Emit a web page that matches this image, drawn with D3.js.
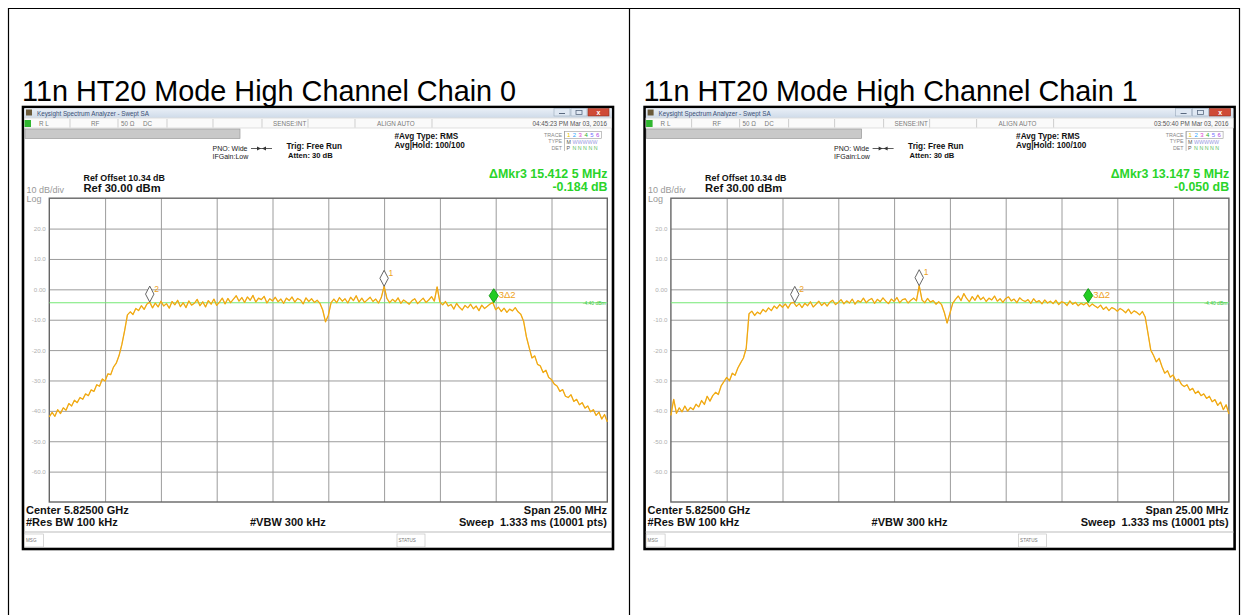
<!DOCTYPE html>
<html><head><meta charset="utf-8">
<script src="https://cdn.jsdelivr.net/npm/d3@7"></script>
<style>
body{margin:0;background:#fff}
svg{display:block}
text{font-family:"Liberation Sans",Arial,Helvetica,sans-serif}
</style>
</head><body>
<svg id="c" width="1247" height="615"></svg>
<script>
// ---------------- data ----------------
const panelTitles = ["11n HT20 Mode High Channel Chain 0", "11n HT20 Mode High Channel Chain 1"];
const timeStamps = ["04:45:23 PM Mar 03, 2016", "03:50:40 PM Mar 03, 2016"];
const deltaMarkerFreq = ["\u0394Mkr3 15.412 5 MHz", "\u0394Mkr3 13.147 5 MHz"];
const deltaMarkerLevel = ["-0.184 dB", "-0.050 dB"];
const displayLineLevel = [-4.4, -4.4];
const displayLineLabel = ["-4.40 dBm", "-4.40 dBm"];

// amplitude axis (dBm), 10 dB/div, ref 30 dBm
const yDomain = [-70, 30];
const yTicks = [20, 10, 0, -10, -20, -30, -40, -50, -60];
const yTickLabels = ["20.0", "10.0", "0.00", "-10.0", "-20.0", "-30.0", "-40.0", "-50.0", "-60.0"];
// frequency axis: offset from start (5.8125 GHz) in MHz, span 25 MHz
const xDomain = [0, 25];
const xGridMHz = [2.5, 5, 7.5, 10, 12.5, 15, 17.5, 20, 22.5];
const freqStepMHz = 0.125;

// trace values (dBm), one every 0.125 MHz
const traceChain0 = [
 -42.0,-40.5,-41.8,-39.6,-40.9,-39.0,-39.8,-37.6,
 -38.4,-36.5,-37.3,-35.6,-36.2,-34.4,-35.0,-33.1,
 -33.6,-31.4,-31.9,-29.5,-30.2,-27.8,-28.1,-25.6,
 -24.3,-21.8,-18.2,-13.6,-8.4,-7.4,-8.3,-6.3,
 -7.0,-5.4,-6.6,-4.8,-4.2,-6.1,-4.5,-5.8,
 -3.9,-5.5,-4.7,-6.2,-4.0,-5.1,-3.6,-5.7,
 -4.4,-6.0,-3.8,-5.2,-4.6,-3.3,-5.4,-4.1,
 -5.8,-3.7,-4.9,-3.2,-5.3,-4.2,-2.9,-4.8,
 -3.0,-4.4,-3.2,-2.1,-3.9,-2.7,-4.3,-2.5,
 -3.6,-2.0,-4.2,-2.9,-3.4,-2.3,-4.5,-3.1,
 -3.8,-2.6,-4.1,-3.2,-4.6,-2.9,-3.7,-2.5,
 -4.2,-3.0,-3.5,-4.8,-2.8,-4.0,-3.1,-4.3,
 -3.6,-4.6,-6.8,-10.7,-8.6,-4.4,-3.2,-4.4,
 -2.7,-3.9,-3.1,-4.5,-2.6,-3.7,-2.1,-4.2,
 -2.9,-4.3,-3.4,-2.6,-4.0,-3.2,-4.5,-2.7,
 1.0,-3.0,-4.4,-3.3,-4.1,-2.8,-4.6,-3.5,
 -4.2,-4.9,-3.7,-3.1,-4.7,-3.8,-2.9,-4.3,
 -3.5,-2.4,-3.9,0.8,-4.2,-5.1,-4.0,-5.5,
 -5.0,-6.5,-4.6,-5.9,-6.8,-5.3,-6.1,-4.9,
 -6.4,-5.5,-7.0,-5.2,-6.3,-5.6,-4.8,-4.4,
 -6.7,-5.9,-7.3,-6.2,-7.6,-6.5,-7.1,-6.0,
 -7.4,-8.2,-10.5,-15.6,-19.2,-22.6,-21.9,-24.7,
 -25.2,-27.4,-26.6,-29.0,-29.7,-31.2,-31.8,-33.6,
 -33.0,-35.2,-35.6,-34.7,-36.9,-36.2,-38.0,-37.3,
 -39.1,-38.4,-40.3,-39.6,-41.5,-40.4,-42.7,-41.2,
 -43.6
];
const traceChain1 = [
 -41.5,-36.2,-40.8,-39.0,-40.3,-38.4,-40.1,-38.9,
 -39.6,-37.8,-38.7,-36.6,-37.9,-35.2,-36.8,-35.0,
 -33.9,-34.6,-31.8,-30.4,-29.0,-30.1,-27.6,-28.3,
 -25.9,-24.2,-22.6,-19.4,-8.0,-7.2,-8.6,-7.5,
 -8.1,-6.6,-7.4,-6.1,-7.0,-5.5,-6.3,-5.0,
 -5.9,-4.8,-6.2,-4.5,-4.3,-5.6,-4.7,-6.0,
 -4.6,-5.4,-4.1,-5.8,-4.9,-3.9,-5.3,-4.4,
 -5.5,-4.2,-3.6,-5.0,-4.3,-3.4,-4.8,-3.8,
 -4.5,-3.2,-4.9,-3.7,-4.2,-2.9,-4.4,-3.5,
 -3.0,-4.6,-3.3,-4.1,-2.8,-3.9,-4.7,-3.2,
 -4.0,-2.7,-4.4,-3.4,-3.1,-4.5,-3.6,-2.9,
 -3.8,1.2,-3.5,-4.4,-3.0,-4.2,-3.7,-4.9,
 -4.1,-5.0,-7.6,-11.1,-7.9,-4.6,-3.3,-2.2,
 -3.7,-1.4,-3.0,-4.1,-2.4,-3.6,-1.9,-3.4,
 -2.6,-4.0,-2.9,-3.5,-2.2,-3.9,-3.1,-4.3,
 -3.0,-2.5,-3.8,-3.2,-4.4,-2.8,-3.6,-4.0,
 -3.4,-4.6,-3.1,-4.2,-3.7,-4.8,-3.5,-4.5,
 -3.9,-4.7,-3.6,-5.0,-4.1,-4.4,-5.3,-3.8,
 -4.9,-4.3,-5.4,-4.6,-5.1,-4.4,-5.7,-4.8,
 -5.5,-6.1,-5.2,-6.6,-5.8,-7.0,-6.0,-6.4,
 -7.2,-6.3,-6.9,-7.7,-6.5,-8.0,-7.1,-7.6,
 -8.4,-7.3,-9.1,-14.5,-20.0,-21.8,-23.9,-22.7,
 -25.4,-27.6,-26.8,-28.9,-28.2,-30.1,-29.6,-31.3,
 -32.0,-31.4,-33.2,-32.6,-34.3,-33.5,-35.0,-34.4,
 -35.9,-35.2,-37.0,-36.3,-38.2,-37.1,-39.6,-38.0,
 -41.0
];
const traces = [traceChain0, traceChain1];

// markers: names, frequency offsets (MHz), levels (dBm)
const markerNames = ["1", "2", "3\u03942"];
const markerFreqChain0 = [15.0, 4.5, 19.9125];
const markerLevelChain0 = [1.0, -4.2, -4.4];
const markerFreqChain1 = [11.125, 5.55, 18.6975];
const markerLevelChain1 = [1.2, -4.3, -4.35];
const markerFreqs = [markerFreqChain0, markerFreqChain1];
const markerLevels = [markerLevelChain0, markerLevelChain1];

// ---------------- drawing ----------------
const svg = d3.select("#c");
svg.append("rect").attr("width",1247).attr("height",615).attr("fill","#fff");

// outer table lines
const tbl = svg.append("g").attr("stroke","#000").attr("stroke-width",1.2);
tbl.append("line").attr("x1",8).attr("x2",1240).attr("y1",8.5).attr("y2",8.5);
[8.5, 629.5, 1239.5].forEach(x=>tbl.append("line").attr("x1",x).attr("x2",x).attr("y1",8).attr("y2",615));

const panelShift = [0, 621.6];

function drawPanel(p){
  const g = svg.append("g").attr("transform",`translate(${panelShift[p]},0)`);
  // title
  g.append("text").attr("x",22).attr("y",100.5).attr("font-size",28.8).attr("fill","#000").text(panelTitles[p]);

  // window frame
  g.append("rect").attr("x",23).attr("y",107).attr("width",590).attr("height",442)
    .attr("fill","#fff").attr("stroke","#000").attr("stroke-width",2.6);
  // title bar
  const grad = svg.append("defs").append("linearGradient").attr("id","tb"+p).attr("x1",0).attr("x2",0).attr("y1",0).attr("y2",1);
  grad.append("stop").attr("offset",0).attr("stop-color","#e9eff7");
  grad.append("stop").attr("offset",1).attr("stop-color","#cfdbe9");
  g.append("rect").attr("x",24.3).attr("y",108.3).attr("width",587.4).attr("height",9.5).attr("fill",`url(#tb${p})`);
  g.append("rect").attr("x",26).attr("y",109.5).attr("width",6).attr("height",6).attr("fill","#6a5a3a");
  g.append("text").attr("x",37).attr("y",115.6).attr("font-size",6.3).attr("fill","#3a4f75").text("Keysight Spectrum Analyzer - Swept SA");
  // window buttons
  g.append("rect").attr("x",554).attr("y",108.5).attr("width",16).attr("height",7.5).attr("fill","#dfe8f3").attr("stroke","#9aaabb").attr("stroke-width",0.6);
  g.append("rect").attr("x",571).attr("y",108.5).attr("width",16).attr("height",7.5).attr("fill","#dfe8f3").attr("stroke","#9aaabb").attr("stroke-width",0.6);
  g.append("rect").attr("x",588).attr("y",108.5).attr("width",21).attr("height",7.5).attr("fill","#cf4a36").attr("stroke","#8a3020").attr("stroke-width",0.6);
  g.append("line").attr("x1",559).attr("x2",565).attr("y1",113.5).attr("y2",113.5).attr("stroke","#5a6a80");
  g.append("rect").attr("x",576).attr("y",110.5).attr("width",6).attr("height",4).attr("fill","none").attr("stroke","#5a6a80").attr("stroke-width",0.8);
  g.append("text").attr("x",598.5).attr("y",115).attr("font-size",7).attr("font-weight","bold").attr("text-anchor","middle").attr("fill","#fff").text("x");

  // toolbar row
  g.append("rect").attr("x",24.3).attr("y",118).attr("width",587.4).attr("height",10).attr("fill","#fafafa").attr("stroke","#ccc").attr("stroke-width",0.6);
  g.append("rect").attr("x",24.5).attr("y",120).attr("width",6.5).attr("height",7).attr("fill","#2fb62f");
  const tb = g.append("g").attr("font-size",6.3).attr("fill","#7a7a7a");
  tb.append("text").attr("x",39).attr("y",125.6).text("R L");
  tb.append("text").attr("x",91).attr("y",125.6).text("RF");
  tb.append("text").attr("x",121).attr("y",125.6).text("50 \u03a9");
  tb.append("text").attr("x",143).attr("y",125.6).text("DC");
  tb.append("text").attr("x",273).attr("y",125.6).text("SENSE:INT");
  tb.append("text").attr("x",377).attr("y",125.6).text("ALIGN AUTO");
  tb.append("text").attr("x",607).attr("y",125.6).attr("text-anchor","end").attr("fill","#555").text(timeStamps[p]);
  [70,118,167,213,262,308,355,432].forEach(x=>g.append("line").attr("x1",x).attr("x2",x).attr("y1",119).attr("y2",127.5).attr("stroke","#bbb").attr("stroke-width",0.7));
  // gray bar
  g.append("rect").attr("x",25).attr("y",129).attr("width",215).attr("height",9.5).attr("fill","#c9c9c9").attr("stroke","#9a9a9a").attr("stroke-width",0.7);

  // settings text
  g.append("text").attr("x",212.5).attr("y",151).attr("font-size",7).attr("fill","#222").text("PNO: Wide");
  g.append("text").attr("x",212.5).attr("y",159).attr("font-size",7).attr("fill","#222").text("IFGain:Low");
  const ar = g.append("g").attr("stroke","#333").attr("fill","#333");
  ar.append("line").attr("x1",251).attr("x2",272).attr("y1",148.5).attr("y2",148.5).attr("stroke-width",0.8);
  ar.append("path").attr("d","M257,146.5 L261,148.5 L257,150.5Z").attr("stroke","none");
  ar.append("path").attr("d","M266,146.5 L262,148.5 L266,150.5Z").attr("stroke","none");
  g.append("text").attr("x",286.5).attr("y",149).attr("font-size",8.2).attr("font-weight","bold").attr("fill","#111").text("Trig: Free Run");
  g.append("text").attr("x",288).attr("y",157.5).attr("font-size",7.6).attr("font-weight","bold").attr("fill","#111").text("Atten: 30 dB");
  g.append("text").attr("x",394.5).attr("y",138.8).attr("font-size",8.2).attr("font-weight","bold").attr("fill","#111").text("#Avg Type: RMS");
  g.append("text").attr("x",394.5).attr("y",148).attr("font-size",8.2).attr("font-weight","bold").attr("fill","#111").text("Avg|Hold: 100/100");

  // trace info block
  const ti = g.append("g").attr("font-size",5.3).attr("fill","#888");
  ti.append("text").attr("x",562).attr("y",137).attr("text-anchor","end").text("TRACE");
  ti.append("text").attr("x",562).attr("y",143.3).attr("text-anchor","end").text("TYPE");
  ti.append("text").attr("x",562).attr("y",149.6).attr("text-anchor","end").text("DET");
  g.append("rect").attr("x",564.5).attr("y",131.5).attr("width",37).attr("height",7).attr("fill","none").attr("stroke","#999").attr("stroke-width",0.6);
  g.append("line").attr("x1",564.5).attr("x2",564.5).attr("y1",131.5).attr("y2",151).attr("stroke","#999").attr("stroke-width",0.6);
  const dcol = ["#e6c200","#2aa6ff","#e040d0","#2ab02a","#7070ff","#b040e0"];
  dcol.forEach((c,i)=>{
    g.append("text").attr("x",567+i*5.8).attr("y",137.2).attr("font-size",6).attr("fill",c).text(String(i+1));
  });
  g.append("text").attr("x",566.5).attr("y",143.5).attr("font-size",5.3).attr("fill","#555").text("M");
  g.append("text").attr("x",572.5).attr("y",143.5).attr("font-size",5.3).attr("fill","#9a9adf").text("WWWWW");
  g.append("text").attr("x",566.5).attr("y",149.8).attr("font-size",5.3).attr("fill","#555").text("P");
  g.append("text").attr("x",572.5).attr("y",149.8).attr("font-size",5.3).attr("fill","#5cc05c").text("N N N N N");

  // delta marker readout
  g.append("text").attr("x",607.5).attr("y",178).attr("text-anchor","end").attr("font-size",12.4).attr("font-weight","bold").attr("fill","#2ad42a").text(deltaMarkerFreq[p]);
  g.append("text").attr("x",607.5).attr("y",190.5).attr("text-anchor","end").attr("font-size",12.4).attr("font-weight","bold").attr("fill","#2ad42a").text(deltaMarkerLevel[p]);

  // ref info
  g.append("text").attr("x",83.5).attr("y",181).attr("font-size",8.9).attr("font-weight","bold").attr("fill","#111").text("Ref Offset 10.34 dB");
  g.append("text").attr("x",83.5).attr("y",192).attr("font-size",11.2).attr("font-weight","bold").attr("fill","#111").text("Ref 30.00 dBm");
  g.append("text").attr("x",26.5).attr("y",192.5).attr("font-size",9).attr("fill","#999").text("10 dB/div");
  g.append("text").attr("x",26.5).attr("y",201.5).attr("font-size",9).attr("fill","#999").text("Log");

  // plot
  const x0 = 49.3, x1 = 607.3, yT = 198.2, yB = 502;
  const x = d3.scaleLinear().domain(xDomain).range([x0, x1]);
  const y = d3.scaleLinear().domain(yDomain).range([yB, yT]);

  const ya = g.append("g").attr("transform",`translate(${x0},0)`)
    .call(d3.axisLeft(y).tickValues(yTicks).tickFormat((d,i)=>yTickLabels[i]).tickSize(-(x1-x0)).tickPadding(3.5));
  ya.select(".domain").remove();
  ya.selectAll("line").attr("stroke","#9c9c9c").attr("stroke-width",1);
  ya.selectAll("text").attr("fill","#b0b0b0").attr("font-size",6.2).attr("font-family","Liberation Sans, Arial, sans-serif");

  const xa = g.append("g").attr("transform",`translate(0,${yB})`)
    .call(d3.axisBottom(x).tickValues(xGridMHz).tickFormat("").tickSize(-(yB-yT)));
  xa.select(".domain").remove();
  xa.selectAll("line").attr("stroke","#9c9c9c").attr("stroke-width",1);

  g.append("rect").attr("x",x0).attr("y",yT).attr("width",x1-x0).attr("height",yB-yT)
    .attr("fill","none").attr("stroke","#666").attr("stroke-width",1.4);

  // display line
  g.append("line").attr("x1",x0).attr("x2",x1).attr("y1",y(displayLineLevel[p])).attr("y2",y(displayLineLevel[p]))
    .attr("stroke","#74e874").attr("stroke-width",1.1);
  g.append("text").attr("x",x1-1.5).attr("y",y(displayLineLevel[p])+1.8).attr("text-anchor","end")
    .attr("font-size",5).attr("fill","#3cc43c").text(displayLineLabel[p]);

  // trace
  const tr = traces[p];
  const line = d3.line().x((d,i)=>x(i*freqStepMHz)).y(d=>y(d));
  g.append("path").datum(tr).attr("d",line).attr("fill","none").attr("stroke","#f2b61c").attr("stroke-width",1.3).attr("stroke-linejoin","round");
  g.append("path").datum(tr).attr("d",line).attr("fill","none").attr("stroke","#ee9a10").attr("stroke-width",0.6).attr("stroke-linejoin","round");

  // markers
  markerNames.forEach((nm,i)=>{
    const mx = x(markerFreqs[p][i]), my = y(markerLevels[p][i]);
    const active = i === 2;
    const h = active ? 14 : 16, w = active ? 4.6 : 4.2;
    g.append("path").attr("d",`M${mx},${my} L${mx+w},${my-h/2} L${mx},${my-h} L${mx-w},${my-h/2}Z`)
      .attr("fill", active ? "#22cc22" : "#fff").attr("stroke", active ? "#119911" : "#555").attr("stroke-width",0.9);
    g.append("text").attr("x",mx+ (active?5:4.5)).attr("y",my-h+ (active?9:5.5))
      .attr("font-size", active?9.5:8.5).attr("fill","#eea21a").text(nm);
  });

  // bottom annotation
  const bt = g.append("g").attr("font-size",11).attr("font-weight","bold").attr("fill","#111");
  bt.append("text").attr("x",26).attr("y",513.5).text("Center 5.82500 GHz");
  bt.append("text").attr("x",26).attr("y",526).text("#Res BW 100 kHz");
  bt.append("text").attr("x",250).attr("y",526).text("#VBW 300 kHz");
  bt.append("text").attr("x",607).attr("y",513.5).attr("text-anchor","end").text("Span 25.00 MHz");
  bt.append("text").attr("x",607).attr("y",526).attr("text-anchor","end").attr("xml:space","preserve").text("Sweep  1.333 ms (10001 pts)");

  // status bar
  g.append("line").attr("x1",24).attr("x2",612).attr("y1",532).attr("y2",532).attr("stroke","#bbb").attr("stroke-width",1);
  g.append("rect").attr("x",24.5).attr("y",534).attr("width",19).attr("height",13).attr("fill","#fff").attr("stroke","#bbb").attr("stroke-width",0.6);
  g.append("text").attr("x",26).attr("y",541.5).attr("font-size",4.6).attr("fill","#777").text("MSG");
  g.append("rect").attr("x",397).attr("y",534).attr("width",28).attr("height",13).attr("fill","#fff").attr("stroke","#bbb").attr("stroke-width",0.6);
  g.append("text").attr("x",398.5).attr("y",541.5).attr("font-size",4.6).attr("fill","#777").text("STATUS");
}
drawPanel(0);
drawPanel(1);
</script>
</body></html>
